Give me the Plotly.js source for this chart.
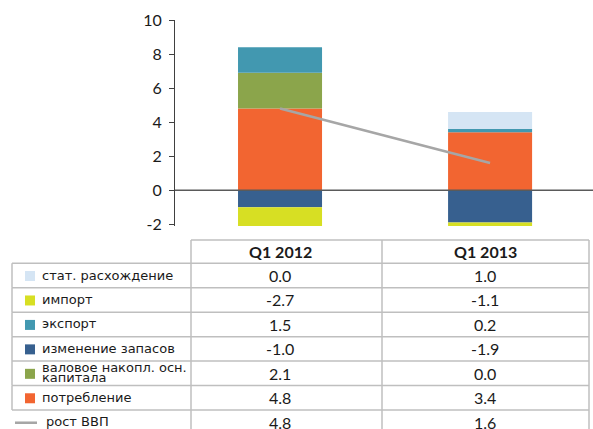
<!DOCTYPE html>
<html>
<head>
<meta charset="utf-8">
<script src="https://cdn.plot.ly/plotly-3.0.1.min.js"></script>
<style>html,body{margin:0;padding:0;background:#fff;}#chart{width:593px;height:429px;}</style>
</head>
<body>
<div id="chart"></div>
<script>
// ---- data ----
const categories = ['Q1 2012', 'Q1 2013'];
const consumption = [4.8, 3.4];      // потребление
const fixedCapital = [2.1, 0.0];     // валовое накопл. осн. капитала
const inventories = [-1.0, -1.9];    // изменение запасов
const exportsV = [1.5, 0.2];         // экспорт
const importsV = [-2.7, -1.1];       // импорт
const statDisc = [0.0, 1.0];         // стат. расхождение
const gdpGrowth = [4.8, 1.6];        // рост ВВП
const yTickVals = [-2, 0, 2, 4, 6, 8, 10];
const yTickText = ['-2', '0', '2', '4', '6', '8', '10'];

const names = {
  stat: 'стат. расхождение',
  imp: 'импорт',
  exp: 'экспорт',
  inv: 'изменение запасов',
  cap: 'валовое накопл. осн.|капитала',
  cons: 'потребление',
  gdp: 'рост ВВП'
};
const colors = {
  stat: '#d5e5f4',
  imp: '#d7df23',
  exp: '#4298b0',
  inv: '#37608f',
  cap: '#8ba54b',
  cons: '#f26531',
  gdp: '#a6a6a6'
};

// ---- traces (stack order) ----
function bar(key, vals) {
  return {type: 'bar', x: categories, y: vals, name: names[key].replace('|', ' '),
          marker: {color: colors[key], line: {width: 0}}, width: 0.4, hoverinfo: 'y+name'};
}
const traces = [
  bar('cons', consumption),
  bar('cap', fixedCapital),
  bar('inv', inventories),
  bar('exp', exportsV),
  bar('imp', importsV),
  bar('stat', statDisc),
  {type: 'scatter', mode: 'lines', x: categories, y: gdpGrowth, name: names.gdp,
   line: {color: colors.gdp, width: 2.5}}
];

// ---- geometry helpers (pixel -> paper) ----
const L = 175, R = 0, T = 20, B = 203, W = 593, H = 429;
const pw = W - L - R, ph = H - T - B;
const px = x => (x - L) / pw;
const py = y => (T + ph - y) / ph;

// ---- table ----
const tableRows = [
  {key: 'stat', vals: statDisc},
  {key: 'imp', vals: importsV},
  {key: 'exp', vals: exportsV},
  {key: 'inv', vals: inventories},
  {key: 'cap', vals: fixedCapital},
  {key: 'cons', vals: consumption},
  {key: 'gdp', vals: gdpGrowth}
];
const headerTop = 240, firstRowTop = 263.3, rowH = 24.45;
const colX = [12, 191, 382, 589];
const valCenters = [280, 485];
const gridColor = '#bfbfbf';
const shapes = [];
const annotations = [];
function hline(y, x0, x1) {
  shapes.push({type: 'line', xref: 'paper', yref: 'paper', x0: px(x0), x1: px(x1), y0: py(y), y1: py(y),
               line: {color: gridColor, width: 1.5}, layer: 'above'});
}
function vline(x, y0, y1) {
  shapes.push({type: 'line', xref: 'paper', yref: 'paper', x0: px(x), x1: px(x), y0: py(y0), y1: py(y1),
               line: {color: gridColor, width: 1.5}, layer: 'above'});
}
// header
hline(headerTop, colX[1], colX[3]);
vline(colX[1], headerTop, H + 5);
vline(colX[2], headerTop, H + 5);
vline(colX[3], headerTop, H + 5);
categories.forEach((c, j) => {
  annotations.push({xref: 'paper', yref: 'paper', x: px(valCenters[j]), y: py(headerTop + (firstRowTop - headerTop) / 2),
    text: '<b>' + c + '</b>', showarrow: false, xanchor: 'center', yanchor: 'middle',
    font: {family: 'Lato, sans-serif', size: 16, color: '#1a1a1a'}});
});
// rows
tableRows.forEach((r, i) => {
  const top = firstRowTop + i * rowH;
  const mid = top + rowH / 2;
  hline(top, colX[0], colX[3]);
  if (r.key !== 'gdp') vline(colX[0], top, top + rowH);
  // swatch
  if (r.key === 'gdp') {
    shapes.push({type: 'line', xref: 'paper', yref: 'paper', x0: px(15), x1: px(37), y0: py(mid + 0.5), y1: py(mid + 0.5),
                 line: {color: colors[r.key], width: 2.5}, layer: 'above'});
  } else {
    shapes.push({type: 'rect', xref: 'paper', yref: 'paper', x0: px(25), x1: px(35), y0: py(mid - 4.5), y1: py(mid + 5.5),
                 fillcolor: colors[r.key], line: {width: 0}, layer: 'above'});
  }
  // label
  const parts = names[r.key].split('|');
  const lx = r.key === 'gdp' ? 44 : 40;
  if (parts.length === 1) {
    annotations.push({xref: 'paper', yref: 'paper', x: px(lx), y: py(mid - 0.5), text: parts[0], showarrow: false,
      xanchor: 'left', yanchor: 'middle', font: {family: 'DejaVu Sans, sans-serif', size: 13, color: '#1a1a1a'}});
  } else {
    parts.forEach((p, k) => {
      annotations.push({xref: 'paper', yref: 'paper', x: px(lx), y: py(mid - 6 + k * 10.5), text: p, showarrow: false,
        xanchor: 'left', yanchor: 'middle', font: {family: 'DejaVu Sans, sans-serif', size: 13, color: '#1a1a1a'}});
    });
  }
  // values
  r.vals.forEach((v, j) => {
    annotations.push({xref: 'paper', yref: 'paper', x: px(valCenters[j]), y: py(mid), text: v.toFixed(1), showarrow: false,
      xanchor: 'center', yanchor: 'middle', font: {family: 'Lato, sans-serif', size: 16, color: '#1a1a1a'}});
  });
});
// zero line above bars
shapes.push({type: 'line', xref: 'paper', yref: 'y', x0: 0, x1: 1, y0: 0, y1: 0,
             line: {color: '#5a5a5a', width: 1.5}, layer: 'above'});

const layout = {
  width: W, height: H,
  margin: {l: L, r: R, t: T, b: B, pad: 0},
  paper_bgcolor: '#fff', plot_bgcolor: '#fff',
  barmode: 'relative',
  showlegend: false,
  xaxis: {type: 'category', range: [-0.5, 1.49], showticklabels: false, showgrid: false, zeroline: false,
          showline: false, ticks: ''},
  yaxis: {range: [-2.1, 10], tickmode: 'array', tickvals: yTickVals, ticktext: yTickText, showgrid: false, zeroline: false,
          showline: true, linecolor: '#404040', linewidth: 1, ticks: 'outside', ticklen: 5, tickcolor: '#404040',
          ticklabelstandoff: 4,
          tickfont: {family: 'Lato, sans-serif', size: 16, color: '#1a1a1a'}},
  shapes: shapes,
  annotations: annotations
};
Plotly.newPlot('chart', traces, layout, {displayModeBar: false, staticPlot: true});
</script>
</body>
</html>
